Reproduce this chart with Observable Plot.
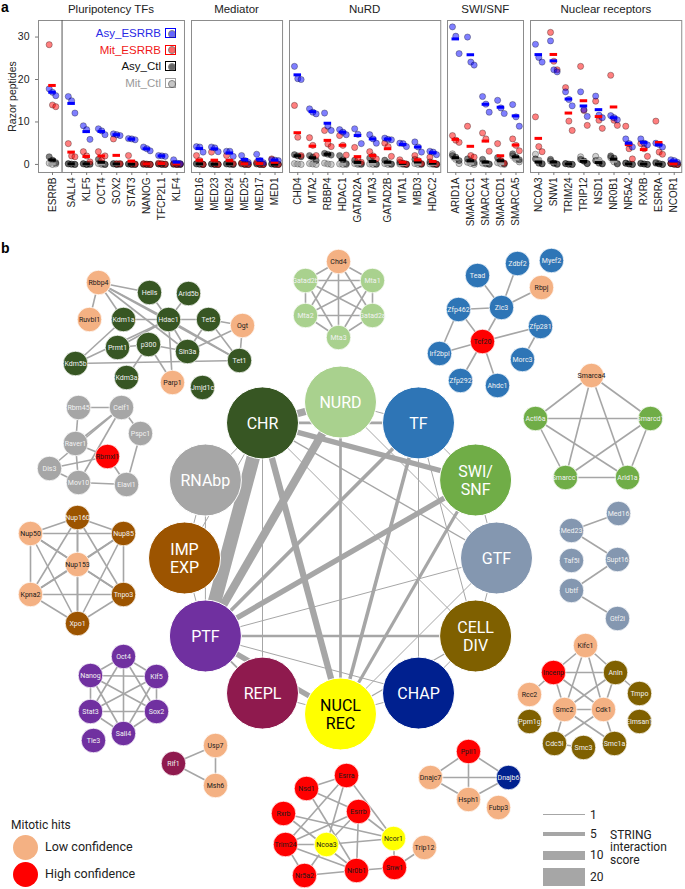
<!DOCTYPE html>
<html><head><meta charset="utf-8">
<script src="https://cdn.jsdelivr.net/npm/d3@7"></script>
<script src="https://cdn.jsdelivr.net/npm/@observablehq/plot@0.6"></script>
<style>
body{margin:0;background:#fff;font-family:"Liberation Sans",Arial,sans-serif;}
#root{position:relative;width:685px;height:889px;overflow:hidden;background:#fff;}
</style></head><body><div id="root"></div>
<script>
// ---------------- Panel a data ----------------
const facetTitles = ["Pluripotency TFs","Mediator","NuRD","SWI/SNF","Nuclear receptors"];
const conditions = ["Mit_Ctl","Asy_Ctl","Mit_ESRRB","Asy_ESRRB"];
const legendConditions = ["Asy_ESRRB","Mit_ESRRB","Asy_Ctl","Mit_Ctl"];
const yTicks = [0,10,20,30];

const pluriProteins = ["ESRRB","SALL4","KLF5","OCT4","SOX2","STAT3","NANOG","TFCP2L1","KLF4"];
const pluriAsyESRRB = [[17.8,17.0,16.2],[16.0,15.0,12.1],[9.1,8.2,5.9],[8.4,7.9,7.0],[7.2,7.0,6.8],[6.1,6.0,5.8],[4.1,3.7,3.2],[2.1,2.0,1.9],[1.1,0.3,0.2]];
const pluriMitESRRB = [[28.2,14.0,13.6],[4.9,2.0,1.8],[3.0,2.0,0.6],[3.0,1.0,2.0],[6.0,0.2,0.2],[2.1,0.2,0.1],[0.2,0.1,0],[0.3,0.2,0.1],[0.2,0,0.1]];
const pluriAsyCtl = [[1.8,1.0,0.4],[0.2,0.1,0],[0.2,0,0.1],[1.2,0.3,0],[0.2,0,0.1],[0.1,0,0],[0.1,0,0],[0.1,0,0],[0.1,0,0]];
const pluriMitCtl = [[0.3,0,0.1],[0.1,0,0],[0.1,0,0],[0.2,0,0],[0.1,0,0],[0.1,0,0],[0,0,0],[0.1,0,0],[0,0,0]];

const medProteins = ["MED16","MED23","MED24","MED25","MED17","MED1"];
const medAsyESRRB = [[4.2,4.1,2.9],[4.1,3.9,3.0],[3.1,3.1,1.9],[2.1,0.9,0.5],[2.4,0.9,0.4],[1.1,1.0,0.9]];
const medMitESRRB = [[2.1,0.9,0],[2.9,0.1,0],[2.1,0.6,0.2],[0.3,0.1,0],[0.5,0.1,0],[1.3,0.2,0]];
const medAsyCtl = [[0.2,0.1,0],[0.1,0,0],[0.2,0.1,0],[0.3,0,0],[0.2,0,0],[0.1,0,0]];
const medMitCtl = [[0.1,0,0],[0.1,0,0],[0.1,0,0],[0.1,0,0],[0.1,0,0],[0.1,0,0]];

const nurdProteins = ["CHD4","MTA2","RBBP4","HDAC1","GATAD2A","MTA3","GATAD2B","MTA1","MBD3","HDAC2"];
const nurdAsyESRRB = [[23.1,20.2,20.0],[13.1,12.3,11.9],[12.1,9.0,8.0],[8.2,7.6,7.0],[8.4,7.1,4.9],[7.0,6.0,5.0],[6.2,5.9,5.8],[5.0,4.9,4.2],[5.3,4.1,2.9],[3.1,2.9,2.3]];
const nurdMitESRRB = [[13.9,6.4,2.1],[6.3,4.5,2.1],[8.0,4.8,4.2],[6.8,4.5,2.2],[4.0,1.0,0.5],[3.0,2.0,1.3],[5.0,4.2,1.9],[1.1,0.3,0.1],[2.1,0.9,0.2],[1.7,0.3,0.1]];
const nurdAsyCtl = [[2.3,2.0,1.8],[2.1,1.7,0.9],[2.6,2.4,2.2],[2.1,1.1,0.2],[1.0,0.3,0.1],[1.5,0.5,0.1],[1.0,0.4,0.1],[0.5,0.2,0],[1.2,0.4,0.1],[0.6,0.2,0]];
const nurdMitCtl = [[0.2,0.1,0],[0.2,0.1,0],[0.3,0.1,0],[0.1,0,0],[0.2,0,0],[0.1,0,0],[0.2,0,0],[0.1,0,0],[0.2,0,0],[0.1,0,0]];

const swiProteins = ["ARID1A","SMARCC1","SMARCA4","SMARCD1","SMARCA5"];
const swiAsyESRRB = [[32.4,30.2,26.1],[30.0,24.1,23.4],[16.0,14.2,12.3],[15.1,13.3,12.0],[14.1,11.2,9.0]];
const swiMitESRRB = [[6.8,5.7,5.2],[9.0,2.1,1.7],[7.4,6.0,3.1],[4.9,0.9,0.3],[6.0,4.5,3.2]];
const swiAsyCtl = [[2.1,1.7,0.9],[1.3,0.8,0.4],[1.2,0.3,0.1],[1.6,0.8,0.2],[2.5,1.7,1.1]];
const swiMitCtl = [[2.5,1.2,0.2],[0.5,0.2,0],[0.3,0.1,0],[0.4,0.1,0],[2.0,1.2,0.6]];

const nrProteins = ["NCOA3","SNW1","TRIM24","TRIP12","NSD1","NR0B1","NR5A2","RXRB","ESRRA","NCOR1"];
const nrAsyESRRB = [[28.3,25.2,24.1],[29.1,22.3,21.8],[17.1,15.3,13.8],[17.1,12.9,11.3],[16.1,11.6,11.0],[11.5,11.0,10.5],[6.0,4.9,4.1],[6.0,5.0,4.6],[5.0,4.7,4.1],[1.1,0.9,0.5]];
const nrMitESRRB = [[11.2,4.2,3.0],[31.1,24.3,22.3],[18.1,10.2,8.0],[23.1,12.7,9.2],[14.9,10.4,8.5],[21.0,10.4,9.2],[9.0,3.7,1.3],[4.9,3.7,1.9],[10.2,2.9,2.4],[0.3,0.1,0]];
const nrAsyCtl = [[1.3,0.3,0.1],[1.2,0.3,0.1],[0.2,0.1,0],[1.2,0.8,0.2],[0.9,0.3,0.1],[2.0,1.5,0.2],[0.3,0.1,0],[0.2,0.1,0],[0.3,0.1,0],[0.2,0.1,0]];
const nrMitCtl = [[2.4,1.0,0.2],[0.8,0.3,0],[0.2,0,0],[1.8,0.8,0.2],[1.9,1.0,0.2],[1.6,0.6,0.1],[0.3,0.1,0],[0.3,0.1,0],[0.5,0.2,0],[0.2,0,0]];

// ---------------- Panel b data ----------------
const modules = ["NURD","TF","SWI/SNF","GTF","CELL DIV","CHAP","NUCL REC","REPL","PTF","IMP EXP","RNAbp","CHR"];
const moduleLabels = ["NURD","TF","SWI/\nSNF","GTF","CELL\nDIV","CHAP","NUCL\nREC","REPL","PTF","IMP\nEXP","RNAbp","CHR"];
const moduleColors = ["#a9d18e","#2e75b6","#70ad47","#8497b0","#7f6000","#00208f","#ffff00","#8f1a4e","#7030a0","#9c5400","#a6a6a6","#375623"];
const moduleEdges = [
  ["CHR","PTF",15],["NURD","PTF",9],["CHR","NURD",8],["CHR","NUCL REC",7],["CHR","SWI/SNF",6],
  ["SWI/SNF","PTF",6],["PTF","NUCL REC",6],["TF","PTF",4],["TF","NUCL REC",4],["SWI/SNF","NUCL REC",3.5],
  ["NURD","NUCL REC",3],["PTF","CELL DIV",3],["CHR","TF",3],["CHR","GTF",1.5],["CHR","CELL DIV",1],
  ["PTF","GTF",1],["TF","CELL DIV",1],["NURD","GTF",1],["PTF","CHAP",1],["TF","CHAP",1],["CHR","REPL",1],
  ["CHR","IMP EXP",1],["NUCL REC","GTF",1],["NUCL REC","CELL DIV",1.5],["RNAbp","PTF",1],
  ["NURD","TF",1],["TF","SWI/SNF",1],["SWI/SNF","GTF",1],["GTF","CELL DIV",1],["CELL DIV","CHAP",1],
  ["CHAP","NUCL REC",1],["NUCL REC","REPL",1],["REPL","PTF",2],["PTF","IMP EXP",1],["IMP EXP","RNAbp",1],["RNAbp","CHR",1]
];
// protein nodes: [name, layout x, layout y, class] (class: "low", "high" or module)
const chrNodes = [["Rbbp4",98,282,"low"],["Hells",149,292,"CHR"],["Arid5b",188,293,"CHR"],["Ruvbl1",89,319,"low"],["Kdm1a",123,319,"CHR"],["Hdac1",168,319,"CHR"],["Tet2",208,319,"CHR"],["Ogt",242,325,"low"],["Prmt1",117,347,"CHR"],["p300",148,344,"CHR"],["Sin3a",187,351,"CHR"],["Tet1",239,360,"CHR"],["Kdm5b",75,363,"CHR"],["Kdm3a",126,377,"CHR"],["Parp1",172,382,"low"],["Jmjd1c",202,387,"CHR"]];
const chrEdges = [["Rbbp4","Ruvbl1"],["Rbbp4","Hells"],["Rbbp4","Kdm1a"],["Rbbp4","Hdac1"],["Rbbp4","Sin3a"],["Rbbp4","Tet1"],["Hells","Hdac1"],["Arid5b","Hdac1"],["Kdm1a","Hdac1"],["Kdm1a","Kdm5b"],["Hdac1","Kdm5b"],["Hdac1","Tet2"],["Hdac1","Sin3a"],["Hdac1","Parp1"],["Hdac1","Tet1"],["Tet2","Ogt"],["Tet2","Tet1"],["Tet2","Sin3a"],["Ogt","Tet1"],["Ogt","Sin3a"],["p300","Prmt1"],["p300","Sin3a"],["p300","Parp1"],["p300","Kdm3a"],["Kdm5b","Tet1"],["Prmt1","Hdac1"]];
const nurdNodes = [["Chd4",338,261,"low"],["Gatad2b",305,280,"NURD"],["Mta1",372,280,"NURD"],["Mta2",305,315,"NURD"],["Gatad2a",372,315,"NURD"],["Mta3",338,337,"NURD"]];
const nurdEdges = "all";
const tfNodes = [["Tead",477,275,"TF"],["Zdbf2",517,263,"TF"],["Myef2",551,260,"TF"],["Rbpj",541,287,"low"],["Zfp462",458,309,"TF"],["Zic3",501,307,"TF"],["Zfp281",540,326,"TF"],["Tcf20",482,341,"high"],["Irf2bpl",439,353,"TF"],["Morc3",522,359,"TF"],["Zfp292",460,380,"TF"],["Ahdc1",497,385,"TF"]];
const tfEdges = [["Tead","Zic3"],["Zdbf2","Zic3"],["Rbpj","Zic3"],["Zfp462","Zic3"],["Zic3","Tcf20"],["Zfp462","Tcf20"],["Zfp462","Irf2bpl"],["Irf2bpl","Tcf20"],["Tcf20","Zfp281"],["Zfp281","Morc3"],["Tcf20","Zfp292"],["Tcf20","Ahdc1"]];
const swiNodes = [["Smarca4",591,375,"low"],["Actl6a",535,418,"SWI/SNF"],["Smarcd1",650,418,"SWI/SNF"],["Smarcc1",565,477,"SWI/SNF"],["Arid1a",627,477,"SWI/SNF"]];
const swiEdges = "all";
const gtfNodes = [["Med16",618,513,"GTF"],["Med23",571,530,"GTF"],["Taf5l",571,560,"GTF"],["Supt16",617,559,"GTF"],["Ubtf",571,590,"GTF"],["Gtf2i",617,618,"GTF"]];
const gtfEdges = [["Med16","Med23"],["Med23","Supt16"],["Supt16","Ubtf"],["Ubtf","Gtf2i"]];
const divNodes = [["Kifc1",585,645,"low"],["Incenp",553,672,"high"],["Anln",615,672,"CELL DIV"],["Rcc2",529,694,"low"],["Tmpo",639,693,"CELL DIV"],["Smc2",564,709,"low"],["Cdk1",603,709,"low"],["Ppm1g",529,721,"CELL DIV"],["Elmsan1",639,721,"CELL DIV"],["Cdc5l",554,743,"CELL DIV"],["Smc3",583,747,"CELL DIV"],["Smc1a",614,743,"CELL DIV"]];
const divEdges = [["Kifc1","Incenp"],["Kifc1","Anln"],["Kifc1","Smc2"],["Kifc1","Cdk1"],["Incenp","Anln"],["Incenp","Smc2"],["Incenp","Cdk1"],["Anln","Smc2"],["Anln","Cdk1"],["Smc2","Cdk1"],["Incenp","Rcc2"],["Anln","Tmpo"],["Smc2","Cdc5l"],["Smc2","Smc1a"],["Cdk1","Cdc5l"],["Cdk1","Smc1a"],["Cdc5l","Smc3"]];
const chapNodes = [["Ppil1",468,751,"high"],["Dnajc7",430,777,"low"],["Dnajb6",508,777,"CHAP"],["Hsph1",468,799,"low"],["Fubp3",498,807,"low"]];
const chapEdges = [["Ppil1","Dnajc7"],["Ppil1","Dnajb6"],["Ppil1","Hsph1"],["Dnajc7","Dnajb6"],["Dnajc7","Hsph1"],["Hsph1","Dnajb6"]];
const nrNodes = [["Esrra",346,775,"high"],["Nsd1",306,788,"high"],["Esrrb",358,811,"high"],["Rxrb",283,813,"high"],["Ncor1",393,838,"NUCL REC"],["Trim24",285,844,"high"],["Ncoa3",326,844,"NUCL REC"],["Trip12",424,847,"low"],["Snw1",394,867,"high"],["Nr5a2",304,875,"high"],["Nr0b1",356,870,"high"]];
const nrEdges = [["Esrra","Nsd1"],["Esrra","Trim24"],["Esrra","Ncoa3"],["Esrra","Ncor1"],["Nsd1","Esrrb"],["Nsd1","Nr0b1"],["Rxrb","Ncor1"],["Rxrb","Nr0b1"],["Esrrb","Trim24"],["Esrrb","Ncoa3"],["Esrrb","Nr0b1"],["Esrrb","Ncor1"],["Ncoa3","Ncor1"],["Trim24","Ncoa3"],["Trim24","Nr5a2"],["Trim24","Nr0b1"],["Ncoa3","Nr5a2"],["Nr5a2","Nr0b1"],["Nr0b1","Snw1"],["Ncor1","Snw1"],["Snw1","Trip12"]];
const ptfNodes = [["Oct4",123,656,"PTF"],["Nanog",90,675,"PTF"],["Klf5",156,676,"PTF"],["Stat3",90,711,"PTF"],["Sox2",156,711,"PTF"],["Sall4",123,733,"PTF"],["Tle3",93,740,"PTF"]];
const ptfEdges = [["Oct4","Nanog"],["Oct4","Klf5"],["Oct4","Stat3"],["Oct4","Sox2"],["Oct4","Sall4"],["Nanog","Klf5"],["Nanog","Stat3"],["Nanog","Sox2"],["Nanog","Sall4"],["Klf5","Stat3"],["Klf5","Sox2"],["Klf5","Sall4"],["Stat3","Sox2"],["Stat3","Sall4"],["Sox2","Sall4"]];
const replNodes = [["Usp7",215,745,"low"],["Rif1",173,763,"REPL"],["Msh6",215,785,"low"]];
const replEdges = "all";
const impNodes = [["Nup160",77,517,"IMP EXP"],["Nup50",30,533,"low"],["Nup85",123,533,"IMP EXP"],["Nup153",77,564,"low"],["Kpna2",30,594,"low"],["Tnpo3",123,594,"IMP EXP"],["Xpo1",77,623,"IMP EXP"]];
const impEdges = "all";
const rnaNodes = [["Rbm45",78,407,"RNAbp"],["Celf1",121,407,"RNAbp"],["Pspc1",140,433,"RNAbp"],["Raver1",75,443,"RNAbp"],["Rbmxl1",107,456,"high"],["Dis3",49,468,"RNAbp"],["Mov10",78,482,"RNAbp"],["Elavl1",126,484,"RNAbp"]];
const rnaEdges = [["Rbm45","Celf1"],["Rbm45","Raver1"],["Celf1","Raver1"],["Celf1","Pspc1"],["Celf1","Mov10"],["Celf1","Dis3"],["Pspc1","Elavl1"],["Raver1","Rbmxl1"],["Dis3","Rbmxl1"],["Dis3","Mov10"],["Mov10","Elavl1"],["Rbmxl1","Elavl1"],["Raver1","Mov10"]];
const stringScores = [1,5,10,20];

// ---------------- helpers ----------------
const root = document.getElementById("root");
function put(el, left, top) { el.style.position = "absolute"; el.style.left = left + "px"; el.style.top = top + "px"; root.appendChild(el); return el; }
function div(text, style) { const d = document.createElement("div"); if (text != null) d.textContent = text; Object.assign(d.style, style || {}); return d; }

// ---------------- Panel a ----------------
const condColor = {Asy_ESRRB: "#0000ff", Mit_ESRRB: "#ff0000", Asy_Ctl: "#000000", Mit_Ctl: "#a0a0a0"};
const legendText = {Asy_ESRRB: "#2a2ae6", Mit_ESRRB: "#f01818", Asy_Ctl: "#111", Mit_Ctl: "#9a9a9a"};
const repOffset = [-0.22, 0, 0.22];
const facets = [
  {proteins: pluriProteins, split: true, data: {Asy_ESRRB: pluriAsyESRRB, Mit_ESRRB: pluriMitESRRB, Asy_Ctl: pluriAsyCtl, Mit_Ctl: pluriMitCtl}},
  {proteins: medProteins, data: {Asy_ESRRB: medAsyESRRB, Mit_ESRRB: medMitESRRB, Asy_Ctl: medAsyCtl, Mit_Ctl: medMitCtl}},
  {proteins: nurdProteins, data: {Asy_ESRRB: nurdAsyESRRB, Mit_ESRRB: nurdMitESRRB, Asy_Ctl: nurdAsyCtl, Mit_Ctl: nurdMitCtl}},
  {proteins: swiProteins, data: {Asy_ESRRB: swiAsyESRRB, Mit_ESRRB: swiMitESRRB, Asy_Ctl: swiAsyCtl, Mit_Ctl: swiMitCtl}},
  {proteins: nrProteins, data: {Asy_ESRRB: nrAsyESRRB, Mit_ESRRB: nrMitESRRB, Asy_Ctl: nrAsyCtl, Mit_Ctl: nrMitCtl}}
];
const unit = 15.05;
let frameLeft = 38;
facets.forEach((f, fi) => {
  const n = f.proteins.length;
  const pos = f.proteins.map((_, i) => (f.split && i > 0 ? i + 0.27 : i));
  const lo = f.split ? -0.93 : -0.55;
  const hi = pos[n - 1] + 0.5;
  const w = (hi - lo) * unit;
  const ml = fi === 0 ? 38 : 0;
  const rows = [], means = [];
  conditions.forEach(c => f.data[c].forEach((reps, i) => {
    reps.forEach((v, k) => rows.push({x: pos[i] + repOffset[k], y: v, c}));
    means.push({x1: pos[i] - 0.25, x2: pos[i] + 0.25, y: d3.mean(reps), c});
  }));
  const label = new Map(f.proteins.map((p, i) => [pos[i], p]));
  const chart = Plot.plot({
    width: ml + w, height: 216, marginLeft: ml, marginRight: 0, marginTop: 1, marginBottom: 63,
    style: {fontFamily: "Liberation Sans, Arial, sans-serif", color: "#222", background: "transparent", overflow: "visible"},
    x: {domain: [lo, hi], axis: null}, y: {domain: [-1.9, 33.9], axis: null}, color: {type: "identity"},
    marks: [
      Plot.frame({stroke: "#8c8c8c"}),
      f.split ? Plot.ruleX([(pos[0] + pos[1]) / 2], {stroke: "#555"}) : null,
      Plot.dot(rows, {x: "x", y: "y", r: 3.1, fill: d => condColor[d.c], fillOpacity: 0.5, stroke: "#000", strokeOpacity: 0.5, strokeWidth: 0.6}),
      Plot.ruleY(means, {y: "y", x1: "x1", x2: "x2", stroke: d => condColor[d.c], strokeWidth: 3}),
      Plot.axisX(pos, {tickFormat: d => label.get(d), tickRotate: -90, tickSize: 3, tickPadding: 2, fontSize: 10, label: null, stroke: "#777"}),
      fi === 0 ? Plot.axisY(yTicks, {tickSize: 3, fontSize: 10.5, label: "Razor peptides", labelAnchor: "center", labelArrow: "none", labelOffset: 30, stroke: "#777"}) : null
    ]
  });
  put(chart, frameLeft - ml, 19);
  const t = div(facetTitles[fi], {width: w + "px", textAlign: "center", fontSize: "11.5px", color: "#222"});
  put(t, frameLeft, 3);
  frameLeft += w + 7;
});
// legend panel a
legendConditions.forEach((c, i) => {
  const cy = 33 + i * 16.6;
  put(div(c, {width: "130px", textAlign: "right", fontSize: "11.5px", color: legendText[c], lineHeight: "14px"}), 31, cy - 7);
  const box = div(null, {width: "11px", height: "10px", border: "1.5px solid " + condColor[c], boxSizing: "border-box"});
  put(box, 165, cy - 5);
  const dotEl = div(null, {width: "6px", height: "6px", borderRadius: "50%", background: condColor[c], opacity: 0.6, border: "0.6px solid #333"});
  put(dotEl, 167.5, cy - 3.2);
});
put(div("a", {fontWeight: "bold", fontSize: "14px", color: "#000"}), 1, -1);

// ---------------- Panel b ----------------
const ringCenter = [340, 557.5], ringRadius = 156;
const ring = modules.map((m, i) => {
  const a = i * Math.PI / 6;
  return {name: m, label: moduleLabels[i], color: moduleColors[i], x: ringCenter[0] + ringRadius * Math.sin(a), y: ringCenter[1] - ringRadius * Math.cos(a)};
});
const ringBy = new Map(ring.map(d => [d.name, d]));
const ringLinks = moduleEdges.map(([a, b, s]) => ({x1: ringBy.get(a).x, y1: ringBy.get(a).y, x2: ringBy.get(b).x, y2: ringBy.get(b).y, s}));
const colorOf = new Map(modules.map((m, i) => [m, moduleColors[i]]));
colorOf.set("low", "#f4b183"); colorOf.set("high", "#ff0000");
const clusters = [[chrNodes, chrEdges], [nurdNodes, nurdEdges], [tfNodes, tfEdges], [swiNodes, swiEdges], [gtfNodes, gtfEdges], [divNodes, divEdges], [chapNodes, chapEdges], [nrNodes, nrEdges], [ptfNodes, ptfEdges], [replNodes, replEdges], [impNodes, impEdges], [rnaNodes, rnaEdges]];
const protNodes = [], protLinks = [];
clusters.forEach(([nodes, edges]) => {
  const by = new Map(nodes.map(([name, x, y, k]) => [name, {name, x, y, k}]));
  nodes.forEach(([name, x, y, k]) => protNodes.push({name, x, y, k}));
  let pairs = edges;
  if (edges === "all") { pairs = []; for (let i = 0; i < nodes.length; i++) for (let j = i + 1; j < nodes.length; j++) pairs.push([nodes[i][0], nodes[j][0]]); }
  pairs.forEach(([a, b]) => protLinks.push({x1: by.get(a).x, y1: by.get(a).y, x2: by.get(b).x, y2: by.get(b).y}));
});
const darkText = new Set(["low", "high", "NUCL REC"]);
const netChart = Plot.plot({
  width: 685, height: 649, margin: 0,
  x: {domain: [0, 685], range: [0, 685], axis: null},
  y: {domain: [240, 889], range: [0, 649], axis: null},
  color: {type: "identity"},
  style: {fontFamily: "Roboto, 'Open Sans', sans-serif", background: "transparent", overflow: "visible"},
  marks: [
    Plot.link(ringLinks, {x1: "x1", y1: "y1", x2: "x2", y2: "y2", stroke: "#a6a6a6", strokeWidth: d => Math.max(1, d.s * 0.9)}),
    Plot.link(protLinks, {x1: "x1", y1: "y1", x2: "x2", y2: "y2", stroke: "#a6a6a6", strokeWidth: 1.6}),
    Plot.dot(ring, {x: "x", y: "y", r: 36, fill: d => d.color, stroke: "#fff", strokeWidth: 1}),
    Plot.text(ring, {x: "x", y: "y", text: "label", fill: d => (d.name === "NUCL REC" ? "#000" : "#fff"), fontSize: 16, lineHeight: 1.12}),
    Plot.dot(protNodes, {x: "x", y: "y", r: 12.3, fill: d => colorOf.get(d.k), stroke: "#fff", strokeWidth: 0.8}),
    Plot.text(protNodes, {x: "x", y: "y", text: "name", fill: d => (darkText.has(d.k) ? "#1a1a1a" : "#f2f2f2"), fontSize: 7})
  ]
});
put(netChart, 0, 240);
put(div("b", {fontWeight: "bold", fontSize: "14px", color: "#000"}), 1, 240);

// mitotic hits legend
put(div("Mitotic hits", {fontFamily: "Roboto, sans-serif", fontSize: "12px", color: "#222"}), 11, 818);
[["Low confidence", "#f4b183", 847], ["High confidence", "#ff0000", 874]].forEach(([t, c, cy]) => {
  put(div(null, {width: "25px", height: "25px", borderRadius: "50%", background: c}), 13, cy - 12.5);
  put(div(t, {fontFamily: "Roboto, sans-serif", fontSize: "12.5px", color: "#222", lineHeight: "14px"}), 45, cy - 7);
});
// STRING legend
const strY = [814.5, 834, 855, 877];
stringScores.forEach((s, i) => {
  const h = Math.max(1, s * 0.9);
  put(div(null, {width: "42px", height: h + "px", background: "#a6a6a6"}), 543, strY[i] - h / 2);
  put(div(String(s), {fontFamily: "Roboto, sans-serif", fontSize: "12px", color: "#222", lineHeight: "14px"}), 590, strY[i] - 7);
});
put(div(null, {fontFamily: "Roboto, sans-serif", fontSize: "12px", color: "#222", lineHeight: "12.4px", whiteSpace: "pre"}), 610, 829).textContent = "STRING\ninteraction\nscore";
</script></body></html>
